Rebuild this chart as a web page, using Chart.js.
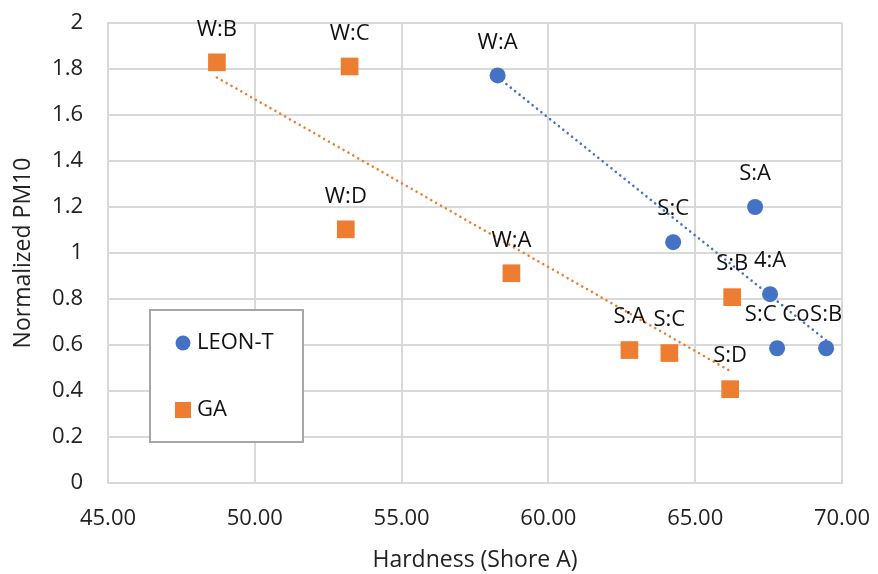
<!DOCTYPE html>
<html>
<head>
<meta charset="utf-8">
<script src="https://cdn.jsdelivr.net/npm/chart.js@4.4.1/dist/chart.umd.min.js"></script>
<style>
  html, body { margin: 0; padding: 0; background: #fff; }
  #wrap { width: 878px; height: 574px; }
</style>
</head>
<body>
<div id="wrap"><canvas id="c" width="878" height="574"></canvas></div>
<script>
// Hardness vs normalized PM10 for two tyre/compound groups
const leonHardness = [58.27, 64.25, 67.04, 67.55, 67.79, 69.46];
const leonPM10     = [1.772, 1.047, 1.200, 0.821, 0.586, 0.586];
const leonLabels   = ['W:A', 'S:C', 'S:A', '4:A', 'S:C Co', 'S:B'];

const gaHardness = [48.71, 53.23, 53.10, 58.74, 62.76, 64.12, 66.26, 66.19];
const gaPM10     = [1.829, 1.811, 1.103, 0.912, 0.578, 0.565, 0.808, 0.408];
const gaLabels   = ['W:B', 'W:C', 'W:D', 'W:A', 'S:A', 'S:C', 'S:B', 'S:D'];

const seriesNames = ['LEON-T', 'GA'];
const xTicks = [45, 50, 55, 60, 65, 70];
const yTicks = [0, 0.2, 0.4, 0.6, 0.8, 1, 1.2, 1.4, 1.6, 1.8, 2];

const BLUE = '#4472C4';
const ORANGE = '#ED7D31';
const FONT = "'Open Sans', sans-serif";
const FS = 22;

function toPoints(xs, ys) { return xs.map((x, i) => ({ x: x, y: ys[i] })); }

// least-squares line across the range of the data
function trend(xs, ys) {
  const n = xs.length;
  const mx = xs.reduce((a, b) => a + b, 0) / n;
  const my = ys.reduce((a, b) => a + b, 0) / n;
  let sxy = 0, sxx = 0;
  for (let i = 0; i < n; i++) { sxy += (xs[i] - mx) * (ys[i] - my); sxx += (xs[i] - mx) ** 2; }
  const k = sxy / sxx;
  const x0 = Math.min(...xs), x1 = Math.max(...xs);
  return [{ x: x0, y: my + k * (x0 - mx) }, { x: x1, y: my + k * (x1 - mx) }];
}

// keep the plot box fixed regardless of tick label overhang
function fixBox(scale, prop, size) {
  scale[prop] = size;
  scale.paddingLeft = scale.paddingRight = scale.paddingTop = scale.paddingBottom = 0;
}

// point labels above each marker
const pointLabels = {
  id: 'pointLabels',
  afterDatasetsDraw(chart) {
    const ctx = chart.ctx;
    ctx.save();
    ctx.font = FS + 'px ' + FONT;
    ctx.fillStyle = '#111';
    ctx.textAlign = 'center';
    ctx.textBaseline = 'middle';
    chart.data.datasets.forEach((ds, di) => {
      if (!ds.pointNames) return;
      chart.getDatasetMeta(di).data.forEach((el, i) => {
        ctx.fillText(ds.pointNames[i], el.x, el.y - 33);
      });
    });
    ctx.restore();
  }
};

// boxed legend inside the plot area
const boxLegend = {
  id: 'boxLegend',
  afterDraw(chart) {
    const ctx = chart.ctx;
    ctx.save();
    ctx.strokeStyle = '#a6a6a6';
    ctx.lineWidth = 2;
    ctx.fillStyle = '#fff';
    ctx.fillRect(150, 310, 153, 132);
    ctx.strokeRect(150, 310, 153, 132);
    ctx.font = FS + 'px ' + FONT;
    ctx.textBaseline = 'middle';
    ctx.textAlign = 'left';
    ctx.fillStyle = BLUE;
    ctx.beginPath(); ctx.arc(183, 343, 7.5, 0, Math.PI * 2); ctx.fill();
    ctx.fillStyle = ORANGE;
    ctx.fillRect(175, 402, 16, 16);
    ctx.fillStyle = '#111';
    ctx.fillText(seriesNames[0], 197, 343);
    ctx.fillText(seriesNames[1], 197, 410);
    ctx.restore();
  }
};

new Chart(document.getElementById('c'), {
  type: 'scatter',
  data: {
    datasets: [
      {
        label: seriesNames[0] + ' trend',
        data: trend(leonHardness, leonPM10),
        showLine: true, borderColor: BLUE, borderWidth: 2.6,
        borderDash: [0.01, 5.6], borderCapStyle: 'round', pointRadius: 0, order: 3
      },
      {
        label: seriesNames[1] + ' trend',
        data: trend(gaHardness, gaPM10),
        showLine: true, borderColor: ORANGE, borderWidth: 2.6,
        borderDash: [0.01, 5.6], borderCapStyle: 'round', pointRadius: 0, order: 4
      },
      {
        label: seriesNames[0],
        data: toPoints(leonHardness, leonPM10),
        pointNames: leonLabels,
        pointStyle: 'circle', pointRadius: 8, pointHoverRadius: 8,
        backgroundColor: BLUE, borderColor: BLUE, borderWidth: 0, order: 1
      },
      {
        label: seriesNames[1],
        data: toPoints(gaHardness, gaPM10),
        pointNames: gaLabels,
        pointStyle: 'rect', pointRadius: 12.5, pointHoverRadius: 12.5,
        backgroundColor: ORANGE, borderColor: ORANGE, borderWidth: 0, order: 2
      }
    ]
  },
  options: {
    responsive: false,
    animation: false,
    events: [],
    clip: false,
    layout: { padding: { top: 23, right: 36, left: 0, bottom: 0 } },
    plugins: { legend: { display: false }, tooltip: { enabled: false } },
    scales: {
      x: {
        type: 'linear', min: 45, max: 70,
        afterBuildTicks(scale) { scale.ticks = xTicks.map(v => ({ value: v })); },
        afterFit(scale) { fixBox(scale, 'height', 91); },
        grid: { color: '#d9d9d9', lineWidth: 2, drawTicks: false },
        border: { color: '#d9d9d9', width: 2 },
        ticks: {
          color: '#222', padding: 23, font: { family: FONT, size: FS },
          callback: v => Number(v).toFixed(2)
        },
        title: {
          display: true, text: 'Hardness (Shore A)', color: '#222',
          font: { family: FONT, size: 23 }, padding: { top: 8, bottom: 0 }
        }
      },
      y: {
        type: 'linear', min: 0, max: 2,
        afterBuildTicks(scale) { scale.ticks = yTicks.map(v => ({ value: v })); },
        afterFit(scale) { fixBox(scale, 'width', 108); },
        grid: { color: '#d9d9d9', lineWidth: 2, drawTicks: false },
        border: { color: '#d9d9d9', width: 2 },
        ticks: {
          color: '#222', padding: 25, font: { family: FONT, size: FS },
          callback: v => String(Math.round(v * 10) / 10)
        },
        title: {
          display: true, text: 'Normalized PM10', color: '#222',
          font: { family: FONT, size: 23 }, padding: { top: 10, bottom: 0 }
        }
      }
    }
  },
  plugins: [pointLabels, boxLegend]
});
</script>
</body>
</html>
